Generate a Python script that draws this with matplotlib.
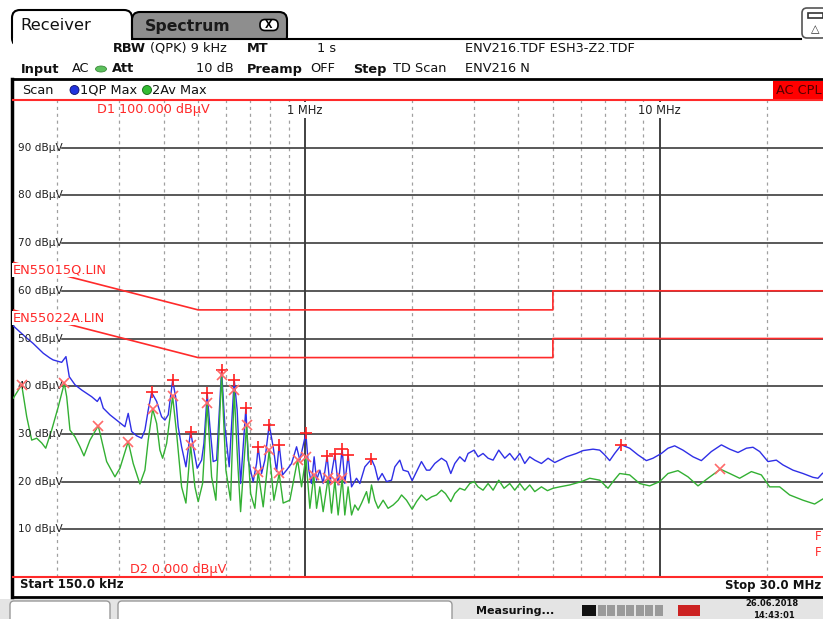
import matplotlib
matplotlib.use("Agg")
import matplotlib.pyplot as plt
from matplotlib.patches import FancyBboxPatch, Rectangle, Ellipse
from matplotlib.transforms import blended_transform_factory

# --- trace data (frequency in kHz, level in dBuV) ---
qp_freq_khz = [150, 162.7, 171.3, 183.2, 191.3, 195.4, 206.4, 212.2, 216.8, 225.0, 235.0, 250.7, 260.0, 264.6,
               270.3, 282.3, 297.9, 311.1, 317.8, 325.0, 335.7, 346.7, 354.2, 361.9, 370.0, 382.2, 394.7, 403.3,
               412.0, 424.0, 432.3, 439.6, 449.4, 462.2, 476.5, 484.6, 497.3, 511.7, 519.4, 530.6, 540.0, 551.7,
               564.0, 582.6, 595.2, 612.0, 632.2, 644.5, 659.0, 682.0, 692.3, 715.1, 731.0, 738.6, 755.2, 771.5,
               793.3, 814.1, 832.3, 846.5, 865.3, 888.1, 917.4, 947.6, 968.1, 1006.5, 1026, 1044, 1062, 1079,
               1102, 1126, 1155, 1176, 1215, 1241, 1274, 1296, 1324, 1354, 1398, 1429, 1476, 1541, 1575, 1609,
               1651, 1699, 1755, 1793, 1852, 1892, 1954, 2006, 2064, 2131, 2202, 2250, 2324, 2427, 2506, 2578,
               2646, 2733, 2823, 2884, 2999, 3077, 3178, 3284, 3392, 3519, 3659, 3779, 3904, 4033, 4166, 4303,
               4445, 4642, 4846, 5061, 5460, 5825, 6080, 6487, 6775, 6998, 7229, 7467, 7799, 8230, 8685, 9172,
               9573, 10109, 10553, 11020, 11626, 12413, 13104, 13983, 14924, 15750, 16622, 17553, 18318, 19130,
               20187, 21314, 22251, 23743, 25336, 27032, 27921, 28730, 30000]
qp_level = [52.8, 50.4, 49.0, 46.9, 45.9, 45.5, 45.0, 46.2, 42.0, 40.3, 39.2, 37.8, 36.8, 37.7,
            35.4, 34.0, 32.6, 31.5, 34.3, 30.5, 29.6, 29.1, 30.8, 35.0, 38.7, 36.8, 33.6, 32.9,
            34.0, 41.2, 37.8, 31.5, 27.3, 23.1, 30.5, 27.3, 22.8, 24.5, 28.0, 38.5, 31.5, 24.2,
            24.5, 43.4, 31.5, 23.1, 41.4, 35.0, 19.6, 35.4, 24.5, 20.0, 23.8, 27.2, 21.7, 24.5,
            31.9, 27.3, 22.1, 27.7, 21.4, 22.4, 23.8, 27.3, 24.5, 30.1, 22.4, 19.6, 25.2, 20.3,
            22.4, 19.6, 25.4, 19.6, 25.7, 19.3, 26.8, 19.6, 25.6, 18.9, 20.7, 19.6, 23.1, 24.7, 23.1, 20.3,
            21.7, 20.0, 20.3, 23.1, 24.5, 22.4, 22.1, 20.2, 22.1, 24.2, 22.4, 22.4, 23.8, 24.9, 24.2, 21.7,
            23.8, 25.2, 24.2, 25.9, 26.6, 25.2, 25.9, 24.9, 24.5, 26.6, 24.9, 25.9, 24.5, 25.9, 23.8, 25.2,
            24.5, 23.8, 24.9, 24.0, 25.2, 25.9, 26.5, 26.8, 26.6, 25.6, 24.4, 25.9, 27.7, 27.0, 25.6, 24.4,
            24.9, 25.9, 27.0, 27.5, 26.6, 25.2, 24.4, 26.3, 27.7, 26.8, 26.1, 27.0, 27.2, 26.3,
            24.2, 24.5, 23.5, 22.4, 21.7, 20.9, 20.7, 21.7, 22.5]

av_freq_khz = [150.8, 159.2, 164.5, 169.9, 175.5, 181.3, 186.1, 193.4, 201.9, 209.9, 213.2, 217.8, 225.0, 232.4,
               238.5, 248.0, 261.7, 267.5, 276.3, 291.6, 301.2, 317.8, 328.3, 342.9, 354.2, 361.9, 372.4, 382.2,
               390.4, 397.3, 407.8, 424.0, 435.1, 449.4, 462.2, 476.5, 489.9, 500.5, 515.0, 530.6, 546.0, 561.4,
               582.6, 599.1, 617.6, 632.2, 646.2, 659.0, 685.1, 703.2, 723.0, 738.6, 763.1, 793.3, 817.9, 846.5,
               868.7, 907.3, 953.8, 978.8, 1006.5, 1033, 1060, 1079, 1102, 1126, 1163, 1189, 1215, 1241, 1274,
               1296, 1324, 1354, 1383, 1413, 1445, 1492, 1515, 1541, 1575, 1609, 1662, 1716, 1774, 1832, 1873,
               1934, 2006, 2064, 2131, 2202, 2275, 2350, 2427, 2490, 2578, 2646, 2733, 2823, 2916, 2999, 3077,
               3178, 3284, 3392, 3519, 3642, 3779, 3904, 4033, 4166, 4303, 4445, 4642, 4827, 5005, 5227, 5578,
               6017, 6350, 6775, 7149, 7385, 7713, 8230, 8781, 9370, 10000, 10553, 11258, 12014, 12821, 13680,
               14827, 15750, 16800, 18130, 19342, 20410, 21780, 23240, 25336, 27330, 28730, 30000]
av_level = [37.5, 40.3, 33.6, 28.7, 29.1, 28.1, 27.0, 30.8, 35.7, 40.6, 37.8, 30.8, 29.4, 27.3,
            25.4, 28.7, 31.7, 28.7, 24.2, 21.0, 22.8, 28.4, 23.8, 19.5, 22.4, 28.7, 35.2, 32.2,
            26.6, 24.9, 28.0, 37.9, 30.1, 18.9, 15.5, 27.7, 18.9, 15.8, 19.6, 36.4, 21.0, 16.1,
            42.3, 22.4, 16.1, 39.1, 24.5, 13.7, 31.9, 17.5, 14.4, 22.1, 14.7, 26.6, 16.1, 21.7,
            15.5, 16.1, 24.6, 18.9, 25.1, 14.4, 21.4, 14.4, 18.9, 13.7, 20.8, 13.4, 20.3, 13.0, 20.7,
            13.0, 18.9, 13.0, 15.1, 14.0, 15.5, 17.9, 15.5, 19.3, 16.1, 14.4, 16.1, 14.4, 15.1, 16.1, 17.2,
            16.1, 14.2, 15.8, 17.2, 16.1, 16.8, 17.2, 18.2, 17.5, 15.8, 17.5, 18.6, 18.2, 19.6, 20.0, 18.9,
            18.2, 19.6, 18.2, 20.3, 18.6, 19.6, 18.2, 19.6, 18.2, 19.3, 17.9, 18.9, 18.1, 18.6, 18.9, 19.3,
            20.0, 20.7, 20.3, 18.6, 20.0, 21.7, 21.4, 19.6, 19.1, 20.0, 21.7, 22.3, 21.0, 19.1, 20.7,
            22.6, 21.7, 20.7, 22.1, 21.4, 18.9, 18.9, 17.2, 16.1, 15.3, 16.3, 17.0]

# peak markers
qp_peak_khz = [370.0, 424.0, 476.5, 530.6, 582.6, 632.2, 682.0, 738.6, 793.3, 846.5, 1006.5, 1155, 1215,
               1274, 1324, 1541, 7799]
qp_peak_level = [38.7, 41.2, 30.5, 38.5, 43.4, 41.4, 35.4, 27.2, 31.9, 27.7, 30.1, 25.4, 25.7, 26.8, 25.6,
                 24.7, 27.7]
av_peak_khz = [159.2, 209.9, 261.7, 317.8, 372.4, 424.0, 476.5, 530.6, 582.6, 632.2, 685.1, 738.6, 793.3,
               846.5, 953.8, 1006.5, 1060, 1163, 1215, 1274, 14827]
av_peak_level = [40.3, 40.6, 31.7, 28.4, 35.2, 37.9, 27.7, 36.4, 42.3, 39.1, 31.9, 22.1, 26.6, 21.7, 24.6,
                 25.1, 21.4, 20.8, 20.3, 20.7, 22.6]

# limit lines
qp_limit_khz = [150, 500, 5000, 5000, 30000]
qp_limit_level = [66, 56, 56, 60, 60]
av_limit_khz = [150, 500, 5000, 5000, 30000]
av_limit_level = [56, 46, 46, 50, 50]

grid_levels = [10, 20, 30, 40, 50, 60, 70, 80, 90]
minor_khz = [200, 300, 400, 500, 600, 700, 800, 900, 2000, 3000, 4000, 5000, 6000, 7000, 8000, 9000, 20000]
major_khz = [1000, 10000]

RED = "#ff2a2a"
HDR = 9.3  # header font size

fig = plt.figure(figsize=(8.23, 6.19), dpi=100)

# full-figure layer for the instrument frame (pixel coordinates)
deco = fig.add_axes([0, 0, 1, 1], zorder=0)
deco.set_xlim(0, 823)
deco.set_ylim(619, 0)
deco.axis("off")

# tabs
deco.add_patch(FancyBboxPatch((12, 10), 120, 36, boxstyle="round,pad=0,rounding_size=8",
                              fc="white", ec="black", lw=1.5))
deco.add_patch(Rectangle((13, 38), 118, 12, fc="white", ec="none"))
deco.add_patch(FancyBboxPatch((132, 12), 155, 32, boxstyle="round,pad=0,rounding_size=8",
                              fc="#8e8e8e", ec="black", lw=1.5))
deco.add_patch(Rectangle((131, 39.5), 158, 8, fc="white", ec="none"))
deco.text(20, 25, "Receiver", fontsize=11.8, va="center", ha="left", color="#111111")
deco.text(145, 26, "Spectrum", fontsize=11.3, fontweight="bold", va="center", ha="left", color="#1a1a1a")
deco.add_patch(FancyBboxPatch((260, 19.5), 18, 11, boxstyle="round,pad=0,rounding_size=5",
                              fc="white", ec="black", lw=1.2))
deco.text(269, 25.3, "X", fontsize=7, fontweight="bold", ha="center", va="center")
deco.plot([132, 801], [39, 39], color="black", lw=1.5)
deco.add_patch(FancyBboxPatch((802, 8), 25, 30, boxstyle="round,pad=0,rounding_size=5",
                              fc="white", ec="#555555", lw=1.2))
deco.add_patch(Rectangle((808, 13), 15, 5, fc="white", ec="#333333", lw=1.2))
deco.text(815, 29, "\u25b3", fontsize=8, ha="center", va="center", color="#333333")

# settings rows
row1 = [("RBW", 113, True), ("(QPK) 9 kHz", 150, False), ("MT", 247, True), ("1 s", 317, False),
        ("ENV216.TDF ESH3-Z2.TDF", 465, False)]
row2 = [("Input", 21, True), ("AC", 72, False), ("Att", 112, True), ("10 dB", 196, False),
        ("Preamp", 247, True), ("OFF", 310, False), ("Step", 353, True), ("TD Scan", 393, False),
        ("ENV216 N", 465, False)]
for txt, x, bold in row1:
    deco.text(x, 48, txt, fontsize=HDR, fontweight="bold" if bold else "normal", va="center", color="#111111")
for txt, x, bold in row2:
    deco.text(x, 69, txt, fontsize=HDR, fontweight="bold" if bold else "normal", va="center", color="#111111")
deco.add_patch(Ellipse((101, 69), 11, 6, fc="#5cc05c", ec="#3a8a3a", lw=0.6))

deco.plot([12, 823], [79, 79], color="black", lw=2)
deco.text(22, 90, "Scan", fontsize=HDR, va="center", color="#111111")
deco.add_patch(Ellipse((74.5, 90), 9, 9, fc="#2233dd", ec="#111166", lw=0.6))
deco.text(80, 90, "1QP Max", fontsize=HDR, va="center", color="#111111")
deco.add_patch(Ellipse((147, 90), 9, 9, fc="#33bb33", ec="#116611", lw=0.6))
deco.text(152, 90, "2Av Max", fontsize=HDR, va="center", color="#111111")
deco.add_patch(Rectangle((773, 80.5), 52, 19, fc="#ff0000", ec="none"))
deco.text(776, 90, "AC CPL", fontsize=HDR, va="center", color="#550000")

# frame
deco.plot([12, 12], [79, 597], color="black", lw=2.5)
deco.plot([12, 823], [597, 597], color="black", lw=2)
deco.text(20, 585, "Start 150.0 kHz", fontsize=8.5, fontweight="bold", va="center", color="#111111")
deco.text(821, 585, "Stop 30.0 MHz", fontsize=8.5, fontweight="bold", va="center", ha="right", color="#111111")

# status bar
deco.add_patch(Rectangle((0, 598.5), 823, 21, fc="#e4e4e4", ec="none"))
deco.add_patch(FancyBboxPatch((10, 601), 100, 22, boxstyle="round,pad=0,rounding_size=4",
                              fc="white", ec="#9a9a9a", lw=1))
deco.add_patch(FancyBboxPatch((118, 601), 334, 22, boxstyle="round,pad=0,rounding_size=4",
                              fc="white", ec="#9a9a9a", lw=1))
deco.text(476, 611, "Measuring...", fontsize=8, fontweight="bold", va="center", color="#111111")
deco.add_patch(Rectangle((582, 605), 14, 11, fc="#111111", ec="none"))
for i in range(7):
    deco.add_patch(Rectangle((598 + i * 9.5, 605), 8, 11, fc="#9a9a9a", ec="none"))
deco.add_patch(Rectangle((678, 605), 22, 11, fc="#cc2222", ec="none"))
deco.text(745, 604, "26.06.2018", fontsize=6, fontweight="bold", va="center", color="#111111")
deco.text(753, 616, "14:43:01", fontsize=6, fontweight="bold", va="center", color="#111111")

# --- measurement diagram ---
ax = fig.add_axes([12.5 / 823, 42 / 619, 816.5 / 823, 477 / 619], zorder=2)
ax.set_xscale("log")
ax.set_xlim(150, 30000)
ax.set_ylim(0, 100)
ax.axis("off")

for f in minor_khz:
    ax.axvline(f, color="#a0a0a0", lw=0.9, ls=(0, (2.5, 3)))
for f in major_khz:
    ax.axvline(f, color="#333333", lw=1.3)

trans = blended_transform_factory(ax.transAxes, ax.transData)
for lev in grid_levels:
    ax.plot([0.061, 1], [lev, lev], transform=trans, color="#3c3c3c", lw=1.2)
    ax.text(0.007, lev, f"{lev} dB\u00b5V", transform=trans, fontsize=7.6, va="center", ha="left",
            color="#222222", zorder=4)

ax.axhline(100, color=RED, lw=1.5, clip_on=False)
ax.axhline(0, color=RED, lw=1.5, clip_on=False)

ax.plot(qp_limit_khz, qp_limit_level, color=RED, lw=1.2)
ax.plot(av_limit_khz, av_limit_level, color=RED, lw=1.2)

ax.plot(qp_freq_khz, qp_level, color="#2f2fe6", lw=1.0, zorder=3)
ax.plot(av_freq_khz, av_level, color="#33b033", lw=1.0, zorder=3)
ax.plot(qp_peak_khz, qp_peak_level, "+", color="#ff2020", ms=8, mew=1.2, zorder=5)
ax.plot(av_peak_khz, av_peak_level, "x", color="#ff6a6a", ms=6.5, mew=1.2, zorder=5)

lbl_box = dict(fc="white", ec="none", pad=0.8)
ax.text(1000, 97.9, "1 MHz", fontsize=8.3, ha="center", va="center", color="#222222", bbox=lbl_box, zorder=6)
ax.text(10000, 97.9, "10 MHz", fontsize=8.3, ha="center", va="center", color="#222222", bbox=lbl_box, zorder=6)
ax.text(97, 110, "D1 100.000 dB\u00b5V", transform=deco.transData, fontsize=9.2, va="center", color=RED, zorder=6)
ax.text(130, 570, "D2 0.000 dB\u00b5V", transform=deco.transData, fontsize=9.2, va="center", color=RED, zorder=6)
ax.text(13, 270, "EN55015Q.LIN", transform=deco.transData, fontsize=9.4, va="center", color=RED,
        bbox=dict(fc="white", ec="none", pad=0.6), zorder=6)
ax.text(13, 318, "EN55022A.LIN", transform=deco.transData, fontsize=9.4, va="center", color=RED,
        bbox=dict(fc="white", ec="none", pad=0.6), zorder=6)
ax.text(815, 537, "F", transform=deco.transData, fontsize=8.5, va="center", color=RED, zorder=6)
ax.text(815, 553, "F", transform=deco.transData, fontsize=8.5, va="center", color=RED, zorder=6)

fig.savefig("out.png", dpi=100)
